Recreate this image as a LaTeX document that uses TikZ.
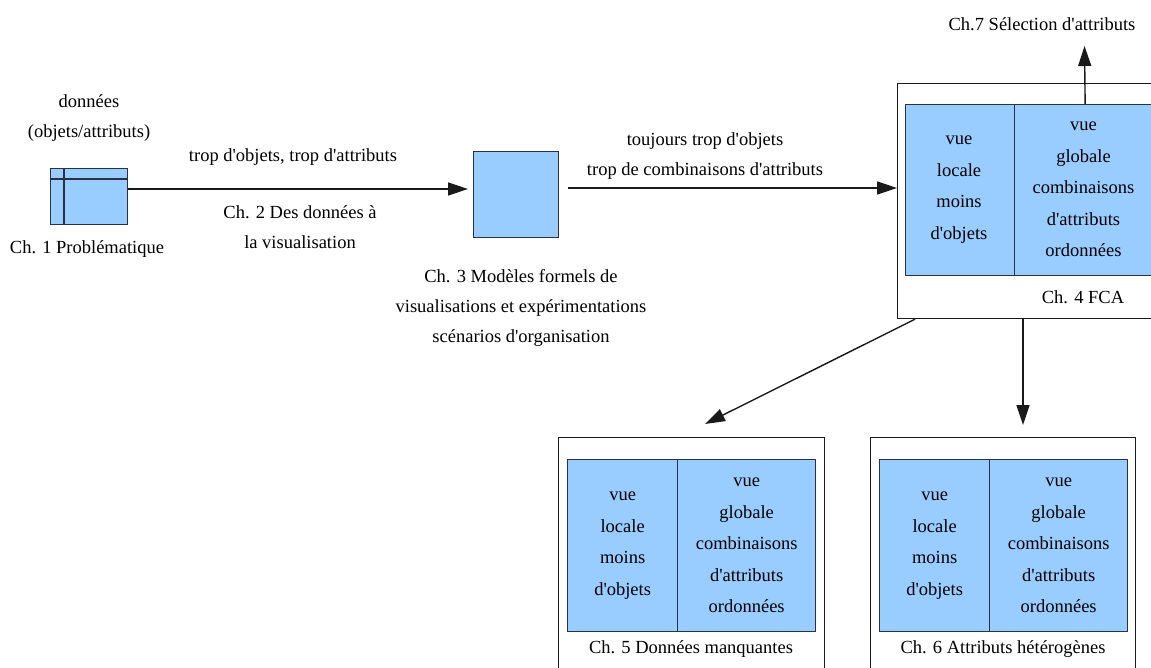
\documentclass[tikz,border=0pt]{standalone}
\usepackage{fontspec}
\newfontfamily\txt{Liberation Serif}
\usetikzlibrary{arrows.meta}
\definecolor{boxblue}{HTML}{99CCFF}
\definecolor{edge}{HTML}{2A3045}
\definecolor{lin}{HTML}{1A1A1A}
\begin{document}
\begin{tikzpicture}[x=1pt,y=-1pt,
  lbl/.style={font=\txt\fontsize{18.5}{30}\selectfont, align=center, inner sep=0pt, text=black},
  col/.style={font=\txt\fontsize{18.5}{31.5}\selectfont, align=center, inner sep=0pt, text=black},
  bluebox/.style={draw=edge, fill=boxblue, line width=1.3pt, inner sep=0pt, anchor=north west},
  outerbox/.style={draw=lin, line width=1.2pt, inner sep=0pt, anchor=north west, fill=white},
  arr/.style={draw=lin, line width=1.4pt, -{Triangle[length=20pt,width=13pt]}}
]
\useasboundingbox (0,0) rectangle (1151,668);
\clip (0,0) rectangle (1151,668);
\fill[white] (0,0) rectangle (1151,668);

% Ch. 1 : table icon
\node[bluebox, minimum width=77pt, minimum height=56pt] (table) at (50,168) {};
\draw[edge, line width=1.3pt] ([xshift=14pt]table.north west) -- ([xshift=14pt]table.south west);
\draw[edge, line width=1.3pt] ([yshift=-11pt]table.north west) -- ([yshift=-11pt]table.north east);
\node[lbl] (donnees) at (89,118) {données\\(objets/attributs)};
\node[lbl] (ch1) at (87,249) {Ch. 1 Problématique};

% Ch. 3 square
\node[bluebox, minimum width=85pt, minimum height=86pt] (sq) at (473,151) {};
\node[lbl] (ch3) at (521,308) {Ch. 3 Modèles formels de\\visualisations et expérimentations\\scénarios d'organisation};

% arrow Ch.1 -> Ch.3
\coordinate (y1) at (0,189);
\draw[arr, shorten >=5pt] (table.east |- y1) -- (sq.west |- y1);
\node[lbl] (l2a) at (293,157) {trop d'objets, trop d'attributs};
\node[lbl] (ch2) at (300,227) {Ch. 2 Des données à\\la visualisation};

% Ch. 4 FCA
\node[outerbox, minimum width=275pt, minimum height=235pt] (fca) at (897,83) {};
\node[bluebox, minimum width=109pt, minimum height=171pt] (fcaL) at (905,104) {};
\node[bluebox, minimum width=141pt, minimum height=171pt] (fcaR) at (1014,104) {};
\node[col] (fcaLt) at (959,189.5) {vue\\locale\\moins\\d'objets};
\node[col] (fcaRt) at (1083.5,189.5) {vue\\globale\\combinaisons\\d'attributs\\ordonnées};
\node[lbl] (ch4) at (1083,297) {Ch. 4 FCA};

% arrow Ch.3 -> Ch.4
\coordinate (y2) at (0,188);
\draw[arr, shorten <=9pt] (sq.east |- y2) -- (fca.west |- y2);
\node[lbl] (l3a) at (705,156) {toujours trop d'objets\\trop de combinaisons d'attributs};

% Ch. 7
\node[lbl] (ch7) at (1042,24) {Ch.7 Sélection d'attributs};
\coordinate (t7) at (1084.5,46);
\draw[arr] (fcaR.north) -- (t7);

% Ch. 5
\node[outerbox, minimum width=266pt, minimum height=260pt] (b5) at (558,437) {};
\node[bluebox, minimum width=110pt, minimum height=172pt] (b5L) at (567,459) {};
\node[bluebox, minimum width=138pt, minimum height=172pt] (b5R) at (677,459) {};
\node[col] (b5Lt) at (b5L.center) {vue\\locale\\moins\\d'objets};
\node[col] (b5Rt) at (b5R.center) {vue\\globale\\combinaisons\\d'attributs\\ordonnées};
\node[lbl] (ch5) at (691,649) {Ch. 5 Données manquantes};

% Ch. 6
\node[outerbox, minimum width=265pt, minimum height=260pt] (b6) at (870,437) {};
\node[bluebox, minimum width=110pt, minimum height=172pt] (b6L) at (879,459) {};
\node[bluebox, minimum width=138pt, minimum height=172pt] (b6R) at (989,459) {};
\node[col] (b6Lt) at (b6L.center) {vue\\locale\\moins\\d'objets};
\node[col] (b6Rt) at (b6R.center) {vue\\globale\\combinaisons\\d'attributs\\ordonnées};
\node[lbl] (ch6) at (1003,649) {Ch. 6 Attributs hétérogènes};

% arrows from FCA
\coordinate (t5) at (705,424);
\coordinate (t6) at (1023,425);
\draw[arr] ([xshift=18pt]fca.south west) -- (t5);
\draw[arr] ([xshift=126pt]fca.south west) -- (t6);
\end{tikzpicture}
\end{document}
